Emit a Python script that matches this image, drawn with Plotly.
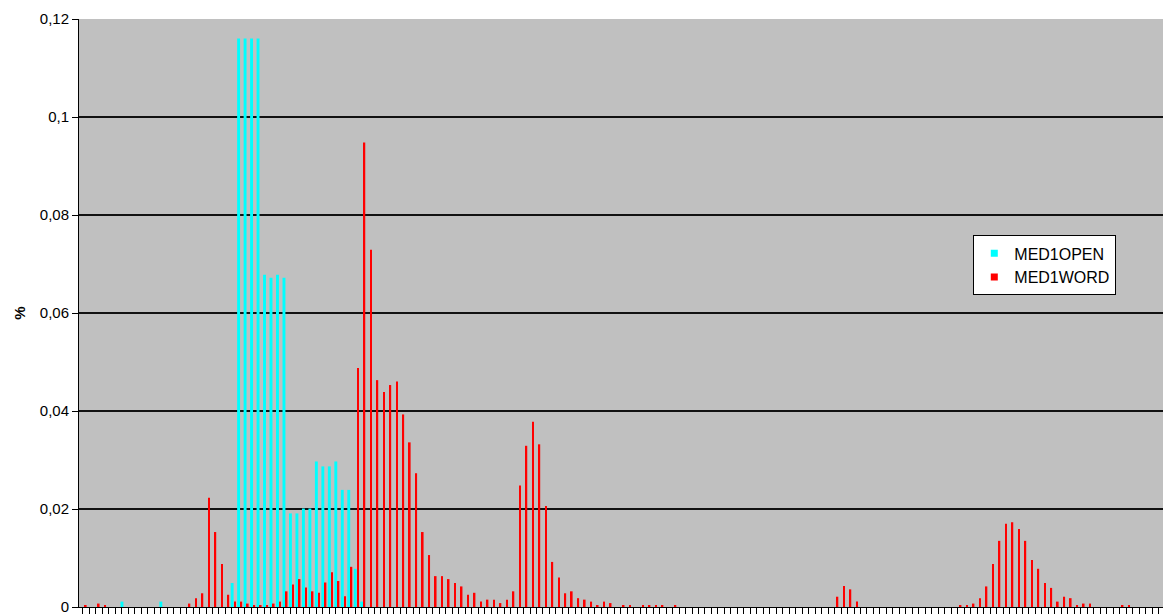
import plotly.graph_objects as go

# Catégories : 168 classes consécutives (l'axe X n'affiche pas d'étiquettes lisibles)
N_CAT = 168
categories = list(range(N_CAT))

# MED1OPEN (cyan) : valeurs non nulles, par indice de classe
open_idx = [7, 13, 24, 25, 26, 27, 28, 29, 30, 31, 32, 33, 34, 35, 36,
            37, 38, 39, 40, 41, 42, 43, 44]
open_val = [0.0011, 0.0011, 0.0049, 0.116, 0.116, 0.116, 0.116,
            0.0678, 0.0672, 0.0678, 0.0672, 0.0191, 0.0191, 0.0201, 0.0201,
            0.0297, 0.0287, 0.0287, 0.0297, 0.0239, 0.0239, 0.0078, 0.0011]

# MED1WORD (rouge)
word_idx = [1, 3, 4,
            17, 18, 19, 20, 21, 22, 23, 24, 25, 26, 27, 28, 29, 30, 31, 32,
            33, 34, 35, 36, 37, 38, 39, 40, 41, 42, 43, 44, 45, 46, 47, 48,
            49, 50, 51, 52, 53, 54, 55, 56, 57, 58, 59, 60, 61, 62, 63, 64,
            65, 66, 67, 68, 69, 70, 71, 72, 73, 74, 75, 76, 77, 78, 79, 80,
            81, 82, 84, 85, 87, 88, 89, 90, 92,
            117, 118, 119, 120,
            136, 137, 138, 139, 140, 141, 142, 143, 144, 145, 146, 147, 148,
            149, 150, 151, 152, 153, 154, 155, 156, 161, 162]
word_val = [0.0004, 0.0007, 0.0004,
            0.0007, 0.0018, 0.0028, 0.0223, 0.0153, 0.0088, 0.0025, 0.0011,
            0.0011, 0.0007, 0.0004, 0.0004, 0.0004, 0.0007, 0.0011, 0.0032,
            0.0046, 0.0057, 0.0040, 0.0032, 0.0029, 0.0050, 0.0071, 0.0053,
            0.0022, 0.0082, 0.0488, 0.0948, 0.0729, 0.0463, 0.0439, 0.0453,
            0.0460, 0.0393, 0.0336, 0.0273, 0.0153, 0.0106, 0.0063, 0.0063,
            0.0057, 0.0049, 0.0042, 0.0025, 0.0029, 0.0011, 0.0015, 0.0015,
            0.0008, 0.0015, 0.0032, 0.0248, 0.0329, 0.0378, 0.0332, 0.0206,
            0.0092, 0.0060, 0.0028, 0.0032, 0.0018, 0.0015, 0.0011, 0.0004,
            0.0011, 0.0008, 0.0004, 0.0004, 0.0004, 0.0004, 0.0004, 0.0004,
            0.0004,
            0.0021, 0.0043, 0.0036, 0.0011,
            0.0004, 0.0004, 0.0007, 0.0018, 0.0042, 0.0088, 0.0135, 0.0170,
            0.0173, 0.0159, 0.0135, 0.0096, 0.0078, 0.0049, 0.0039, 0.0011,
            0.0021, 0.0018, 0.0004, 0.0007, 0.0007, 0.0004, 0.0004]

y_ticks = [0, 0.02, 0.04, 0.06, 0.08, 0.1, 0.12]
y_ticktext = ["0", "0,02", "0,04", "0,06", "0,08", "0,1", "0,12"]

med1open = [0.0] * N_CAT
for i, v in zip(open_idx, open_val):
    med1open[i] = v
med1word = [0.0] * N_CAT
for i, v in zip(word_idx, word_val):
    med1word[i] = v

FONT = "Liberation Sans, Arial, sans-serif"

fig = go.Figure()
# barres : cyan à gauche, rouge collé à droite dans chaque classe
fig.add_trace(go.Bar(x=categories, y=med1open, width=0.45, offset=-0.645,
                     marker=dict(color="#00FFFF", line=dict(width=0)),
                     showlegend=False, hoverinfo="x+y"))
fig.add_trace(go.Bar(x=categories, y=med1word, width=0.25, offset=-0.125,
                     marker=dict(color="#FF0000", line=dict(width=0)),
                     showlegend=False, hoverinfo="x+y"))
# entrées de légende (petits carrés comme dans l'original)
fig.add_trace(go.Scatter(x=[None], y=[None], mode="markers", name="MED1OPEN",
                         marker=dict(symbol="square", size=7, color="#00FFFF")))
fig.add_trace(go.Scatter(x=[None], y=[None], mode="markers", name="MED1WORD",
                         marker=dict(symbol="square", size=7, color="#FF0000")))

fig.update_layout(
    width=1163, height=615,
    margin=dict(l=79, r=0, t=19, b=6),
    paper_bgcolor="white",
    plot_bgcolor="#C0C0C0",
    barmode="overlay",
    font=dict(family=FONT, size=15, color="black"),
    legend=dict(x=0.825, y=0.632, xanchor="left", yanchor="top",
                bgcolor="white", bordercolor="black", borderwidth=1,
                font=dict(family=FONT, size=16, color="black")),
    xaxis=dict(range=[-0.05, -0.05 + 1084 / 6.48],
               showgrid=False, zeroline=False,
               showline=True, linecolor="black", linewidth=1,
               ticks="outside", ticklen=6, tickcolor="black", tickwidth=1,
               tickvals=[k - 0.45 for k in categories],
               showticklabels=False),
    yaxis=dict(range=[0, 0.12], tickvals=y_ticks, ticktext=y_ticktext,
               ticklabeloverflow="allow",  # sinon le « 0 » du bas est masqué
               showgrid=True, gridcolor="#111111", gridwidth=2,
               zeroline=False,
               showline=True, linecolor="black", linewidth=1,
               ticks="outside", ticklen=6, tickcolor="black", tickwidth=1,
               title=dict(text="<b>%</b>", standoff=10,
                          font=dict(family=FONT, size=15, color="black"))),
)

# la marge par défaut du <body> décale le graphique de 8 px
fig.write_html("out.html", config={"displayModeBar": False},
               post_script="document.body.style.margin='0';")
